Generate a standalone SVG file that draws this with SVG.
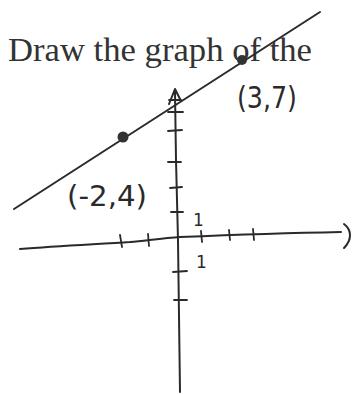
<svg xmlns="http://www.w3.org/2000/svg" width="358" height="394" viewBox="0 0 358 394">
<style>
.ink{fill:none;stroke:#2a2a2a;stroke-width:2;stroke-linecap:round;stroke-linejoin:round}
.tick{fill:none;stroke:#2a2a2a;stroke-width:1.8;stroke-linecap:round}
.hand{font-family:"DejaVu Sans","Liberation Sans",sans-serif;fill:#2a2a2a}
.title{font-family:"Liberation Serif",serif;fill:#333}
</style>
<rect width="358" height="394" fill="#fff"/>
<g id="title"><text class="title" x="8" y="61" font-size="33" textLength="304" lengthAdjust="spacingAndGlyphs">Draw the graph of the</text></g>
<g id="axes">
<path class="ink" d="M20,249 C60,246 100,244 130,242 C150,240 165,238 180,237 C230,235 290,233 341,232"/>
<path class="ink" d="M344,224 C352,230 352,240 344,248"/>
<path class="ink" d="M175,92 L176,160 L178,240 L180,392"/>
<path class="ink" d="M169,104 L175,89 L181,101"/>
<path class="tick" d="M168,112 L183,112 M169,100 L181,100"/>
<g id="yticks"><path class="tick" d="M168,131 L182,130 M168,162 L181,162 M170,188 L182,187 M171,212 L183,212 M173,272 L187,271 M174,300 L187,300"/></g>
<g id="xticks"><path class="tick" d="M120,235 L122,247 M148,234 L149,246 M201,231 L202,242 M229,230 L230,240 M253,229 L254,240"/></g>
<text class="hand" x="193" y="226" font-size="17">1</text>
<text class="hand" x="196" y="268" font-size="17">1</text>
</g>
<g id="line"><path class="ink" d="M14,209 L320,12"/></g>
<g id="pt37"><circle cx="242" cy="60" r="5" fill="#333"/><text class="hand" x="237" y="108" font-size="30" textLength="60" lengthAdjust="spacingAndGlyphs">(3,7)</text></g>
<g id="ptm24"><circle cx="123" cy="137" r="5.5" fill="#333"/><text class="hand" x="67" y="206" font-size="29" textLength="80" lengthAdjust="spacingAndGlyphs">(-2,4)</text></g>
</svg>
